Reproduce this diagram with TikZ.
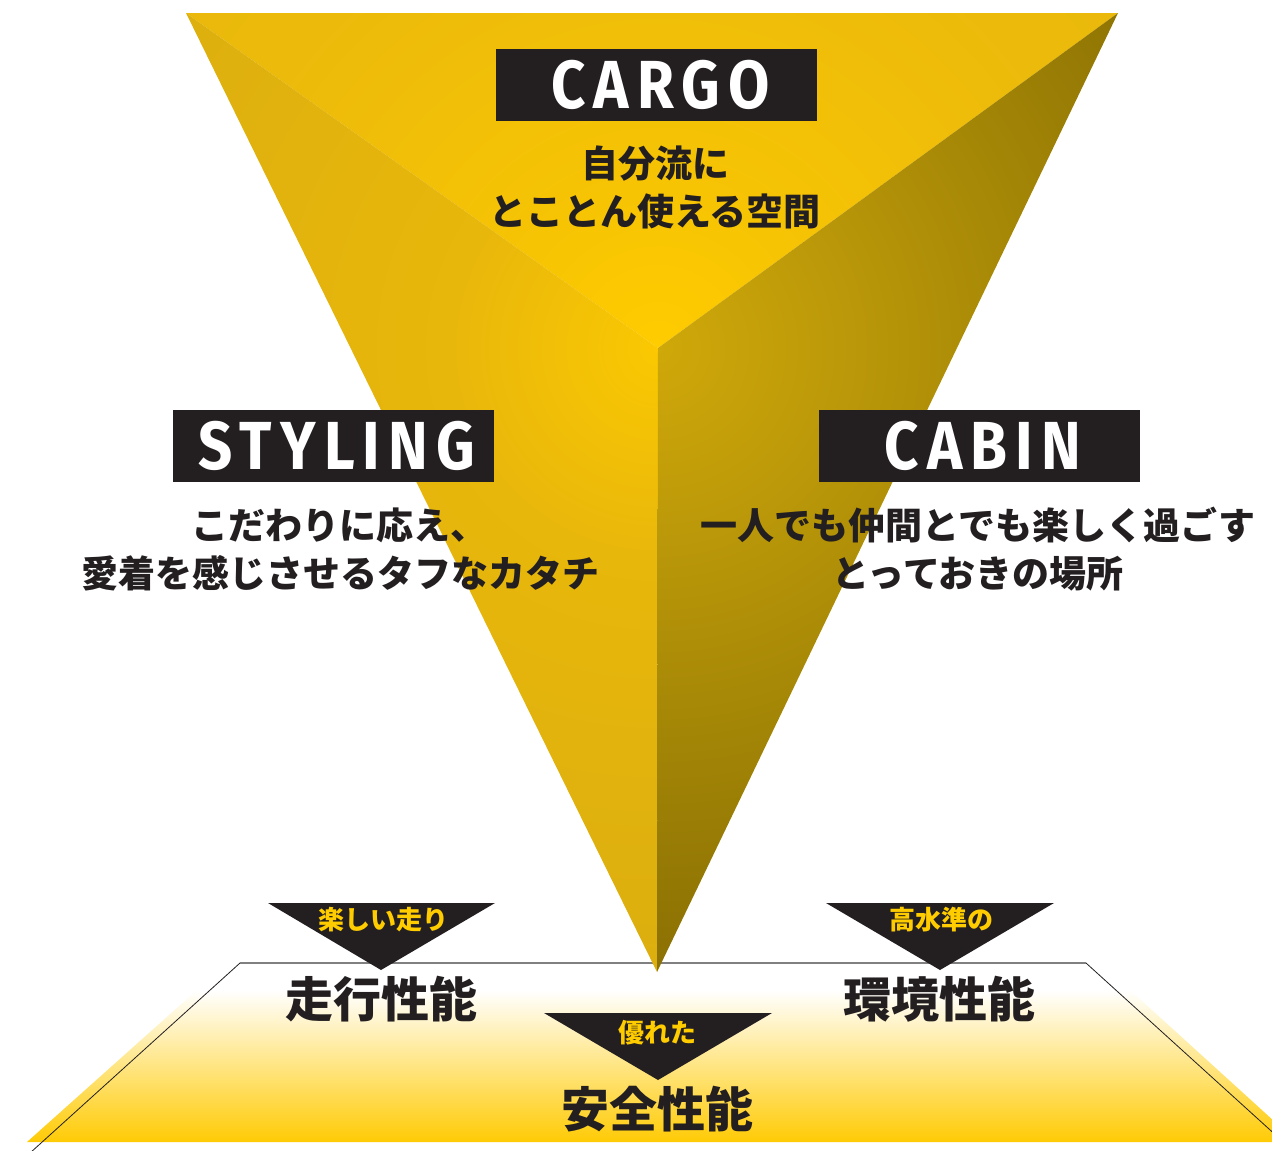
\documentclass[tikz,border=0pt]{standalone}
\usepackage{fontspec}
\newfontfamily\jp{Noto Sans CJK JP}[BoldFont={Noto Sans CJK JP Black}]
\newfontfamily\lat{Fira Sans}[LetterSpace=12, FakeStretch=0.88]
\definecolor{ink}{HTML}{231F20}
\definecolor{gold}{HTML}{FFCC00}
\definecolor{tA}{HTML}{FFCC00}\definecolor{tB}{HTML}{F8C503}\definecolor{tC}{HTML}{EBBA0B}\definecolor{tD}{HTML}{E4B40C}
\definecolor{lA}{HTML}{FBC802}\definecolor{lB}{HTML}{E8B70B}\definecolor{lC}{HTML}{DBAE0F}\definecolor{lD}{HTML}{CAA10F}
\definecolor{rA}{HTML}{CFA809}\definecolor{rB}{HTML}{BC9909}\definecolor{rC}{HTML}{9A7E05}\definecolor{rD}{HTML}{7A6002}\definecolor{rE}{HTML}{5A4400}
\definecolor{floorY}{HTML}{FFCB05}
\pgfdeclareradialshading{topglow}{\pgfpoint{0bp}{0bp}}{color(0bp)=(tA); color(5bp)=(tB); color(18bp)=(tC); color(50bp)=(tD)}
\pgfdeclareradialshading{leftglow}{\pgfpoint{0bp}{0bp}}{color(0bp)=(lA); color(8bp)=(lB); color(25bp)=(lC); color(50bp)=(lD)}
\pgfdeclareradialshading{rightglow}{\pgfpoint{0bp}{0bp}}{color(0bp)=(rA); color(7bp)=(rB); color(18bp)=(rC); color(31bp)=(rD); color(50bp)=(rE)}
\tikzset{
  labbox/.style={fill=ink, text=white, minimum width=321pt, minimum height=72pt, inner sep=0pt,
    font={\lat\bfseries\fontsize{68}{68}\selectfont}},
  desc/.style={text=ink, align=center, inner sep=0pt, font={\jp\bfseries\fontsize{37}{48}\selectfont}},
  tritext/.style={text=gold, inner sep=0pt, font={\jp\bfseries\fontsize{26}{26}\selectfont}},
  bigtext/.style={text=ink, inner sep=0pt, font={\jp\bfseries\fontsize{48}{48}\selectfont}},
  marker/.style={fill=ink},
}
\begin{document}
\begin{tikzpicture}[x=1pt,y=-1pt]
\useasboundingbox (0,0) rectangle (1272,1151);
\clip (0,0) rectangle (1272,1151);
% floor
\coordinate (fl) at (240,963);
\coordinate (fr) at (1086,963);
\coordinate (flb) at (30,1153);
\coordinate (frb) at (1290,1148);
\shade[top color=white, bottom color=floorY] (197,990) -- (1130,990) -- (1297,1142) -- (27,1142) -- cycle;
\draw[line width=0.8pt, ink] (fl) -- (flb);
\draw[line width=0.8pt, ink] (fr) -- (frb);
\draw[line width=2pt, black!50] (fl) -- (fr);
% pyramid
\coordinate (TL) at (186,13);
\coordinate (TR) at (1118,13);
\coordinate (C) at (658,348);
\coordinate (A) at (657,972);
\begin{scope}
  \clip (TL) -- (TR) -- (C) -- cycle;
  \shade[shading=topglow] (C) circle (650pt);
\end{scope}
\begin{scope}
  \clip (TL) -- (C) -- (A) -- cycle;
  \shade[shading=leftglow] (C) circle (650pt);
\end{scope}
\begin{scope}
  \clip (TR) -- (C) -- (A) -- cycle;
  \shade[shading=rightglow] (C) circle (650pt);
\end{scope}
% small markers
\fill[marker] (268,903) -- (495,903) -- (381,970) -- cycle;
\fill[marker] (826,903) -- (1054,903) -- (940,970) -- cycle;
\fill[marker] (544,1013) -- (772,1013) -- (658,1080) -- cycle;
% labels
\node[labbox] (cargo) at (656.5,85) {\hspace*{8pt}CARGO};
\node[labbox] (styling) at (333,445.5) {\hspace*{8pt}STYLING};
\node[labbox] (cabin) at (979,445.5) {\hspace*{8pt}CABIN};
\node[desc] (cargotxt) at (655,187) {自分流に\\とことん使える空間};
\node[desc] (stylingtxt) at (340,549) {こだわりに応え、\\愛着を感じさせるタフなカタチ};
\node[desc] (cabintxt) at (978,549) {一人でも仲間とでも楽しく過ごす\\とっておきの場所};
\node[tritext] (t1) at (383,920) {楽しい走り};
\node[tritext] (t2) at (941,920) {高水準の};
\node[tritext] (t3) at (657,1033) {優れた};
\node[bigtext] (b1) at (381,999) {走行性能};
\node[bigtext] (b2) at (939,999) {環境性能};
\node[bigtext] (b3) at (657,1109) {安全性能};
\end{tikzpicture}
\end{document}
